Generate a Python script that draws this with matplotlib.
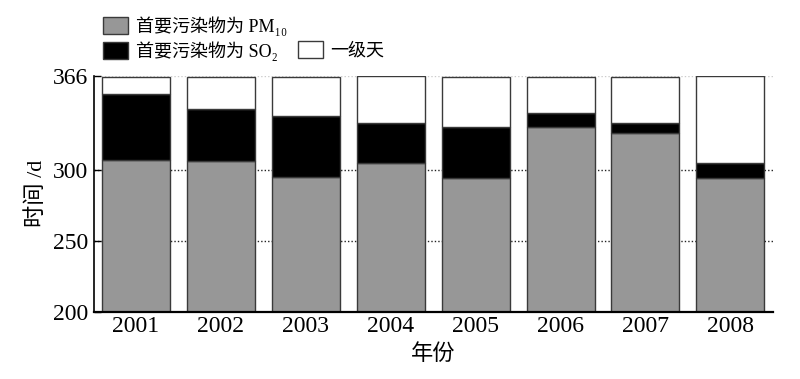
import matplotlib.pyplot as plt
import matplotlib.patches as mpatches
import numpy as np

plt.rcParams['font.family'] = ['Liberation Serif', 'Noto Sans CJK SC', 'DejaVu Serif']

# days per year
years = ['2001', '2002', '2003', '2004', '2005', '2006', '2007', '2008']
pm10_days = [307, 306, 295, 305, 294, 330, 326, 294]
so2_days = [46, 37, 43, 28, 36, 10, 7, 11]
good_days = [12, 22, 27, 33, 35, 25, 32, 61]
legend_labels = ['首要污染物为 PM₁₀', '首要污染物为 SO₂', '一级天']

gray = '#979797'
edge = '#3a3a3a'

pm10 = np.array(pm10_days)
so2 = np.array(so2_days)
good = np.array(good_days)
x = np.arange(len(years))

fig = plt.figure(figsize=(8, 3.79), dpi=100)
ax = fig.add_axes([0.117, 0.1776, 0.849, 0.622])

# dotted guide lines behind the bars
for yv in [250, 300]:
    ax.axhline(yv, color='#222222', linestyle=(0, (1, 1.5)), linewidth=1, zorder=0)
ax.axhline(366, color='#cccccc', linestyle=(0, (1, 1.5)), linewidth=1, zorder=0)

w = 0.8
ax.bar(x, pm10, w, color=gray, edgecolor=edge, linewidth=1, zorder=2)
ax.bar(x, so2, w, bottom=pm10, color='black', edgecolor=edge, linewidth=1, zorder=2)
ax.bar(x, good, w, bottom=pm10 + so2, color='white', edgecolor=edge, linewidth=1, zorder=2)

ax.set_xlim(-0.5, 7.5)
ax.set_ylim(200, 366)
ax.set_yticks([200, 250, 300, 366])
ax.set_xticks(x)
ax.set_xticklabels(years)
ax.tick_params(axis='y', direction='in', length=5, width=1, labelsize=17, pad=4)
ax.tick_params(axis='x', length=0, labelsize=17, pad=3)

for s in ['top', 'right']:
    ax.spines[s].set_visible(False)
ax.spines['left'].set_linewidth(1.2)
ax.spines['bottom'].set_linewidth(1.6)

ax.set_ylabel('时间 /d', fontsize=16, labelpad=4)
ax.set_xlabel('年份', fontsize=16, labelpad=5)

h_pm = mpatches.Patch(facecolor=gray, edgecolor=edge, linewidth=1)
h_so = mpatches.Patch(facecolor='black', edgecolor=edge, linewidth=1)
h_blank = mpatches.Patch(facecolor='none', edgecolor='none')
h_good = mpatches.Patch(facecolor='white', edgecolor=edge, linewidth=1)
fig.legend([h_pm, h_so, h_blank, h_good],
           [legend_labels[0], legend_labels[1], '', legend_labels[2]],
           ncol=2, loc='upper left', bbox_to_anchor=(0.129, 0.958),
           frameon=False, fontsize=13, handlelength=1.4, handleheight=1.1,
           handletextpad=0.4, labelspacing=0.3, columnspacing=0.6,
           borderpad=0, borderaxespad=0)

fig.savefig('out.png', dpi=100)
